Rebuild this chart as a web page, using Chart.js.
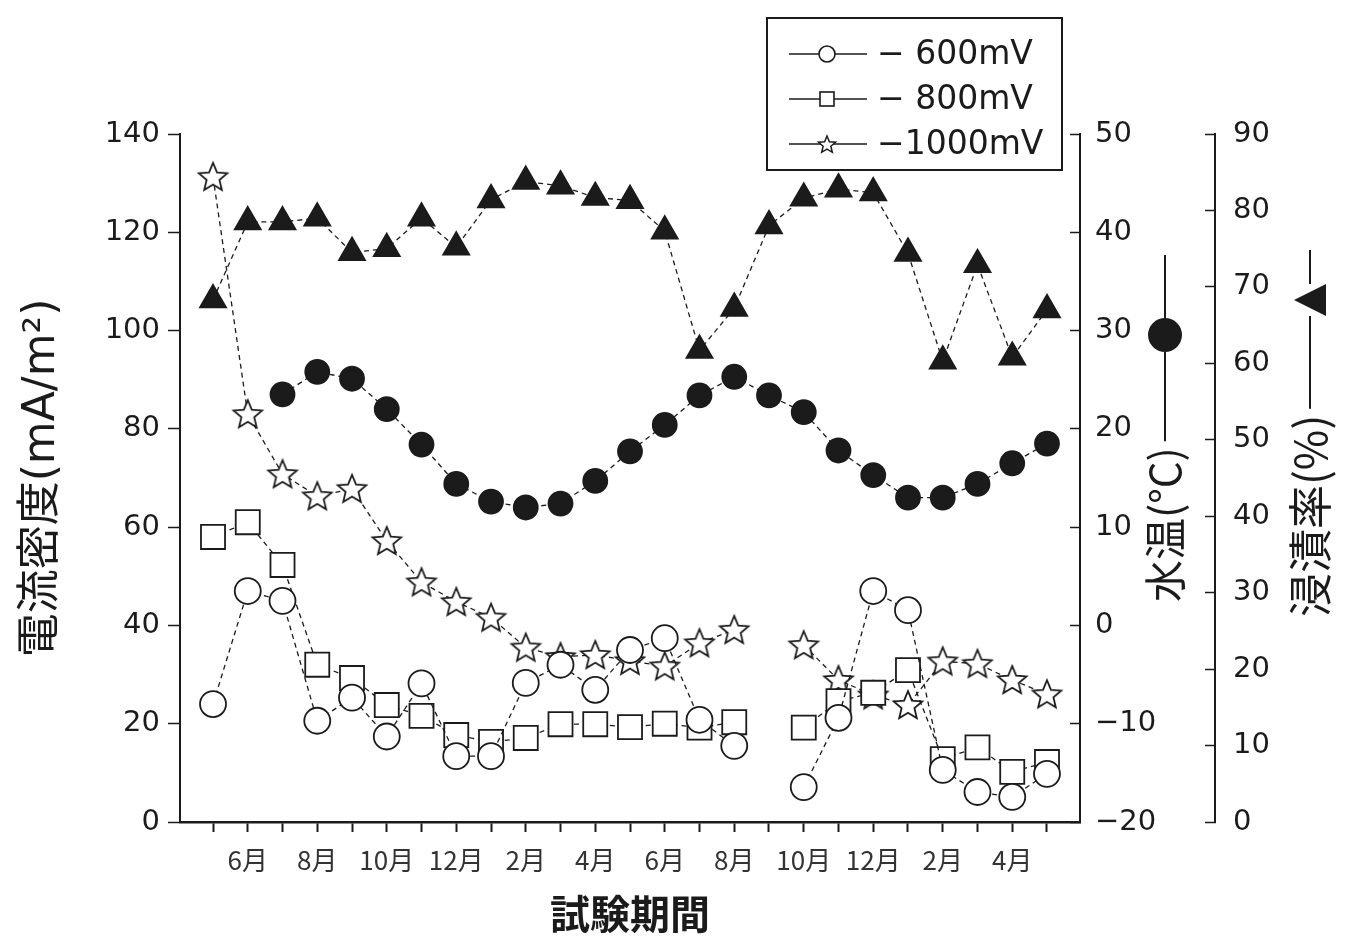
<!DOCTYPE html>
<html lang="ja">
<head>
<meta charset="utf-8">
<title>電流密度・水温・浸漬率の推移</title>
<script src="https://cdn.jsdelivr.net/npm/chart.js@4.4.1/dist/chart.umd.min.js"></script>
<style>
  html, body { margin: 0; padding: 0; background: #fff; }
  #wrap { width: 1349px; height: 940px; }
</style>
</head>
<body>
<div id="wrap"><canvas id="chart"></canvas></div>
<script>
// monthly readings, May -> May of the second year
const months = [5, 6, 7, 8, 9, 10, 11, 12, 1, 2, 3, 4, 5, 6, 7, 8, 9, 10, 11, 12, 1, 2, 3, 4, 5];
const monthLabels = ['', '6月', '', '8月', '', '10月', '', '12月', '', '2月', '', '4月', '',
                     '6月', '', '8月', '', '10月', '', '12月', '', '2月', '', '4月', ''];

// current density (mA/m2), left axis
const cur600  = [24.0, 47.0, 45.0, 20.6, 25.3, 17.4, 28.2, 13.4, 13.4, 28.3, 32.0, 26.9, 35.0, 37.4, 20.8, 15.5, null, 7.1, 21.2, 47.0, 43.1, 10.6, 6.1, 5.1, 9.8];
const cur800  = [58.0, 61.0, 52.3, 32.0, 29.3, 23.8, 21.6, 17.7, 16.3, 17.1, 19.9, 19.9, 19.3, 20.0, 19.2, 20.3, null, 19.2, 24.6, 26.3, 30.9, 12.8, 15.2, 10.2, 12.2];
const cur1000 = [131.3, 83.0, 70.8, 66.3, 67.8, 57.2, 48.8, 44.8, 41.6, 35.5, 33.6, 34.0, 32.8, 31.7, 36.4, 39.1, null, 36.0, 28.9, 25.8, 23.8, 32.7, 32.2, 28.9, 26.0];
// water temperature (deg C), middle axis
const waterTemp = [null, null, 23.5, 25.8, 25.1, 22.0, 18.4, 14.4, 12.6, 12.0, 12.4, 14.7, 17.7, 20.4, 23.4, 25.3, 23.4, 21.7, 17.8, 15.3, 13.0, 13.0, 14.4, 16.5, 18.5];
// immersion rate (%), right axis
const immersion = [68.3, 78.5, 78.5, 79.0, 74.5, 75.0, 79.0, 75.2, 81.4, 83.8, 83.2, 81.7, 81.3, 77.3, 61.7, 67.2, 78.0, 81.6, 82.8, 82.3, 74.4, 60.3, 72.9, 60.8, 67.0];

const ink = '#1b1b1b';
const tickFont = { family: "'DejaVu Sans', sans-serif", size: 29 };
const jpFont = "'Noto Sans CJK JP', sans-serif";
const minus = v => String(v).replace('-', '−');

const toPoints = arr => arr.map((v, i) => ({ x: i, y: v }));

// five-point outline star used as marker
function makeStar(size, lw) {
  const c = document.createElement('canvas');
  c.width = size; c.height = size;
  const g = c.getContext('2d');
  const cx = size / 2, cy = size / 2 + 1, ro = size / 2 - 2, ri = ro * 0.45;
  g.beginPath();
  for (let k = 0; k < 10; k++) {
    const r = k % 2 ? ri : ro;
    const a = -Math.PI / 2 + k * Math.PI / 5;
    g.lineTo(cx + r * Math.cos(a), cy + r * Math.sin(a));
  }
  g.closePath();
  g.fillStyle = '#fff'; g.fill();
  g.strokeStyle = ink; g.lineWidth = lw; g.stroke();
  return c;
}
const starMark = makeStar(34, 1.8);
const starSmall = makeStar(22, 1.5);

const lineBase = {
  borderColor: ink,
  borderWidth: 1.3,
  borderDash: [5, 4],
  pointBorderColor: ink,
  pointBorderWidth: 1.8,
  tension: 0,
  fill: false
};

// legend box drawn inside the top right of the plot
const boxLegend = {
  id: 'boxLegend',
  afterDraw(chart) {
    const { ctx, chartArea } = chart;
    const x0 = chartArea.right - 313, y0 = 18, w = 295, h = 152;
    ctx.save();
    ctx.fillStyle = '#fff';
    ctx.fillRect(x0, y0, w, h);
    ctx.strokeStyle = ink; ctx.lineWidth = 2;
    ctx.strokeRect(x0, y0, w, h);
    const rows = [
      { label: chart.data.datasets[0].label, kind: 'circle' },
      { label: chart.data.datasets[1].label, kind: 'rect' },
      { label: chart.data.datasets[2].label, kind: 'star' }
    ];
    rows.forEach((r, k) => {
      const y = y0 + 36 + k * 45;
      const mx = x0 + 60;
      ctx.strokeStyle = ink; ctx.lineWidth = 1.6;
      ctx.beginPath(); ctx.moveTo(x0 + 22, y); ctx.lineTo(x0 + 100, y); ctx.stroke();
      ctx.fillStyle = '#fff'; ctx.lineWidth = 1.6;
      if (r.kind === 'circle') {
        ctx.beginPath(); ctx.arc(mx, y, 8, 0, Math.PI * 2); ctx.fill(); ctx.stroke();
      } else if (r.kind === 'rect') {
        ctx.fillRect(mx - 7, y - 7, 14, 14); ctx.strokeRect(mx - 7, y - 7, 14, 14);
      } else {
        ctx.drawImage(starSmall, mx - 11, y - 11);
      }
      ctx.fillStyle = ink;
      ctx.font = "33px 'DejaVu Sans', sans-serif";
      ctx.textAlign = 'left'; ctx.textBaseline = 'middle';
      ctx.fillText(r.label, x0 + 110, y + 1);
    });
    ctx.restore();
  }
};

// vertical titles of the two right axes, reading bottom to top, with their series key
const rightTitles = {
  id: 'rightTitles',
  afterDraw(chart) {
    const { ctx } = chart;
    const sT = chart.scales.yT, sI = chart.scales.yI;
    ctx.save();
    ctx.fillStyle = ink; ctx.strokeStyle = ink; ctx.lineWidth = 2;
    ctx.textAlign = 'left'; ctx.textBaseline = 'middle';

    // 水温: text from y=602 upward, key circle near y=335
    ctx.save();
    ctx.translate(sT.right - 50, 602);
    ctx.rotate(-Math.PI / 2);
    ctx.font = '42px ' + jpFont;
    ctx.fillText('水温(°C)', 0, 0);
    let t = ctx.measureText('水温(°C)').width + 6;
    ctx.beginPath(); ctx.moveTo(t, 0); ctx.lineTo(250, 0); ctx.stroke();
    ctx.beginPath(); ctx.arc(267, 0, 17, 0, Math.PI * 2); ctx.fill();
    ctx.beginPath(); ctx.moveTo(284, 0); ctx.lineTo(347, 0); ctx.stroke();
    ctx.restore();

    // 浸漬率: text from y=617 upward, key triangle near y=300
    ctx.save();
    ctx.translate(sI.right - 39, 617);
    ctx.rotate(-Math.PI / 2);
    ctx.font = '44px ' + jpFont;
    ctx.fillText('浸漬率(%)', 0, 0);
    t = ctx.measureText('浸漬率(%)').width + 6;
    ctx.beginPath(); ctx.moveTo(t, 0); ctx.lineTo(301, 0); ctx.stroke();
    ctx.beginPath();
    ctx.moveTo(301, 16); ctx.lineTo(333, 16); ctx.lineTo(317, -16); ctx.closePath();
    ctx.fill();
    ctx.beginPath(); ctx.moveTo(333, 0); ctx.lineTo(367, 0); ctx.stroke();
    ctx.restore();

    ctx.restore();
  }
};

const ctx = document.getElementById('chart').getContext('2d');
const chart = new Chart(ctx, {
  type: 'line',
  data: {
    datasets: [
      Object.assign({}, lineBase, {
        label: '− 600mV', data: toPoints(cur600), yAxisID: 'y',
        pointStyle: 'circle', pointRadius: 13, pointBackgroundColor: '#fff'
      }),
      Object.assign({}, lineBase, {
        label: '− 800mV', data: toPoints(cur800), yAxisID: 'y',
        pointStyle: 'rect', pointRadius: 17, pointBackgroundColor: '#fff'
      }),
      Object.assign({}, lineBase, {
        label: '−1000mV', data: toPoints(cur1000), yAxisID: 'y',
        pointStyle: starMark, pointRadius: 17
      }),
      Object.assign({}, lineBase, {
        label: '水温', data: toPoints(waterTemp), yAxisID: 'yT',
        pointStyle: 'circle', pointRadius: 12, pointBackgroundColor: ink
      }),
      Object.assign({}, lineBase, {
        label: '浸漬率', data: toPoints(immersion), yAxisID: 'yI',
        pointStyle: 'triangle', pointRadius: 15, pointBackgroundColor: ink
      })
    ]
  },
  options: {
    responsive: true,
    maintainAspectRatio: false,
    animation: false,
    layout: { padding: { top: 134, right: 0, bottom: 0, left: 0 } },
    plugins: {
      legend: { display: false },
      tooltip: { enabled: false }
    },
    scales: {
      x: {
        type: 'linear',
        min: -0.95,
        max: 24.95,
        afterBuildTicks: s => { s.ticks = months.map((m, i) => ({ value: i })); },
        afterFit: s => { s.height = 118; },
        ticks: {
          callback: (v, i) => monthLabels[i],
          autoSkip: false, maxRotation: 0, padding: 13,
          color: '#333', font: { family: jpFont, size: 26 }
        },
        grid: { drawOnChartArea: false, tickLength: 10, tickColor: ink, tickWidth: 2 },
        border: { color: ink, width: 2.5 },
        title: {
          display: true, text: '試験期間', color: ink,
          font: { family: jpFont, size: 40, weight: 'bold' },
          padding: { top: 0, bottom: 2 }
        }
      },
      y: {
        position: 'left',
        min: 0, max: 140,
        afterFit: s => { s.width = 180; },
        ticks: { stepSize: 20, padding: 8, color: ink, font: tickFont },
        grid: { drawOnChartArea: false, tickLength: 12, tickColor: ink, tickWidth: 1.5 },
        border: { color: ink, width: 2 },
        title: {
          display: true, text: '電流密度(mA/m²)', color: ink,
          font: { family: "'DejaVu Sans', 'Noto Sans CJK JP', sans-serif", size: 44 },
          padding: { top: 16, bottom: 0 }
        }
      },
      yT: {
        position: 'right',
        weight: 1,
        min: -20, max: 50,
        afterFit: s => { s.width = 135; },
        ticks: { stepSize: 10, padding: 25, color: ink, font: tickFont, callback: minus },
        grid: { drawOnChartArea: false, tickLength: -10, tickColor: ink, tickWidth: 1.5 },
        border: { color: ink, width: 2 }
      },
      yI: {
        position: 'right',
        weight: 2,
        min: 0, max: 90,
        afterFit: s => { s.width = 134; },
        ticks: { stepSize: 10, padding: 28, color: ink, font: tickFont },
        grid: { drawOnChartArea: false, tickLength: -10, tickColor: ink, tickWidth: 1.5 },
        border: { color: ink, width: 2 }
      }
    }
  },
  plugins: [boxLegend, rightTitles]
});
</script>
</body>
</html>
